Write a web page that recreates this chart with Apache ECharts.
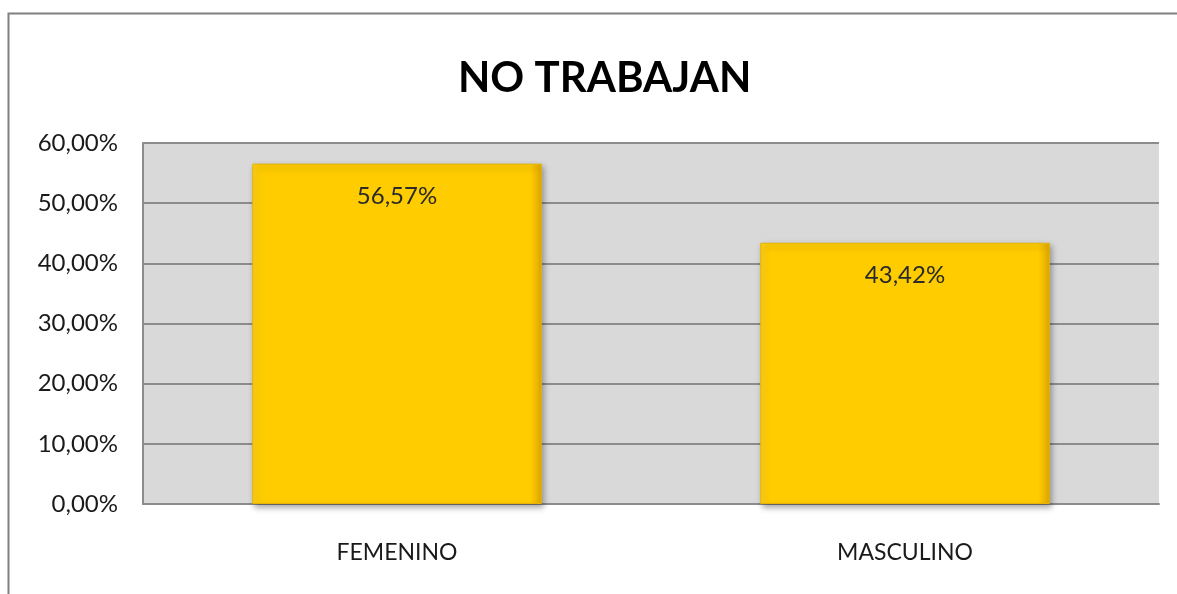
<!DOCTYPE html>
<html>
<head>
<meta charset="utf-8">
<script src="https://cdn.jsdelivr.net/npm/echarts@6/dist/echarts.min.js"></script>
<style>
  html, body { margin: 0; padding: 0; background: #fff; }
  #chart { width: 1177px; height: 594px; }
</style>
</head>
<body>
<div id="chart"></div>
<script>
const categories = ['FEMENINO', 'MASCULINO'];
const values = [56.57, 43.42];
const yTicks = [0, 10, 20, 30, 40, 50, 60];

const fmt = (v) => v.toFixed(2).replace('.', ',') + '%';

var mychart = echarts.init(document.getElementById('chart'));
mychart.setOption({
  animation: false,
  backgroundColor: '#fff',
  title: {
    text: 'NO TRABAJAN',
    left: 453,
    top: 52,
    textStyle: {
      fontFamily: 'Lato',
      fontWeight: 'bold',
      fontSize: 42,
      color: '#000'
    }
  },
  graphic: [
    {
      type: 'rect',
      shape: { x: 8.5, y: 13.5, width: 1200, height: 700 },
      style: { fill: 'none', stroke: '#808080', lineWidth: 2 },
      silent: true
    }
  ],
  grid: {
    left: 143,
    right: 18,
    top: 143,
    bottom: 90,
    show: true,
    backgroundColor: '#d9d9d9',
    borderWidth: 0
  },
  xAxis: {
    type: 'category',
    data: categories,
    axisTick: { show: false },
    axisLine: { show: true, lineStyle: { color: '#8c8c8c', width: 2 } },
    axisLabel: {
      margin: 37,
      fontFamily: 'Lato',
      fontSize: 23,
      color: '#1a1a1a'
    }
  },
  yAxis: {
    type: 'value',
    min: yTicks[0],
    max: yTicks[yTicks.length - 1],
    interval: 10,
    axisLine: { show: true, lineStyle: { color: '#8c8c8c', width: 2 } },
    axisTick: { show: false },
    splitLine: { lineStyle: { color: '#8c8c8c', width: 2 } },
    axisLabel: {
      margin: 25,
      fontFamily: 'Lato',
      fontSize: 24,
      color: '#1a1a1a',
      formatter: (v) => fmt(v)
    }
  },
  series: [
    {
      type: 'bar',
      data: values,
      barWidth: '57%',
      itemStyle: {
        color: {
          type: 'linear', x: 0, y: 0, x2: 1, y2: 0,
          colorStops: [
            { offset: 0, color: '#ffd21a' },
            { offset: 0.03, color: '#ffcc00' },
            { offset: 0.96, color: '#ffcc00' },
            { offset: 1, color: '#e0a800' }
          ]
        },
        borderColor: '#e8b400',
        borderWidth: 1,
        shadowColor: 'rgba(0,0,0,0.35)',
        shadowBlur: 6,
        shadowOffsetX: 2,
        shadowOffsetY: 3
      },
      label: {
        show: true,
        position: 'insideTop',
        distance: 21,
        fontFamily: 'Lato',
        fontSize: 24,
        color: '#2a2a2a',
        formatter: (p) => fmt(p.value)
      }
    }
  ]
});
</script>
</body>
</html>
